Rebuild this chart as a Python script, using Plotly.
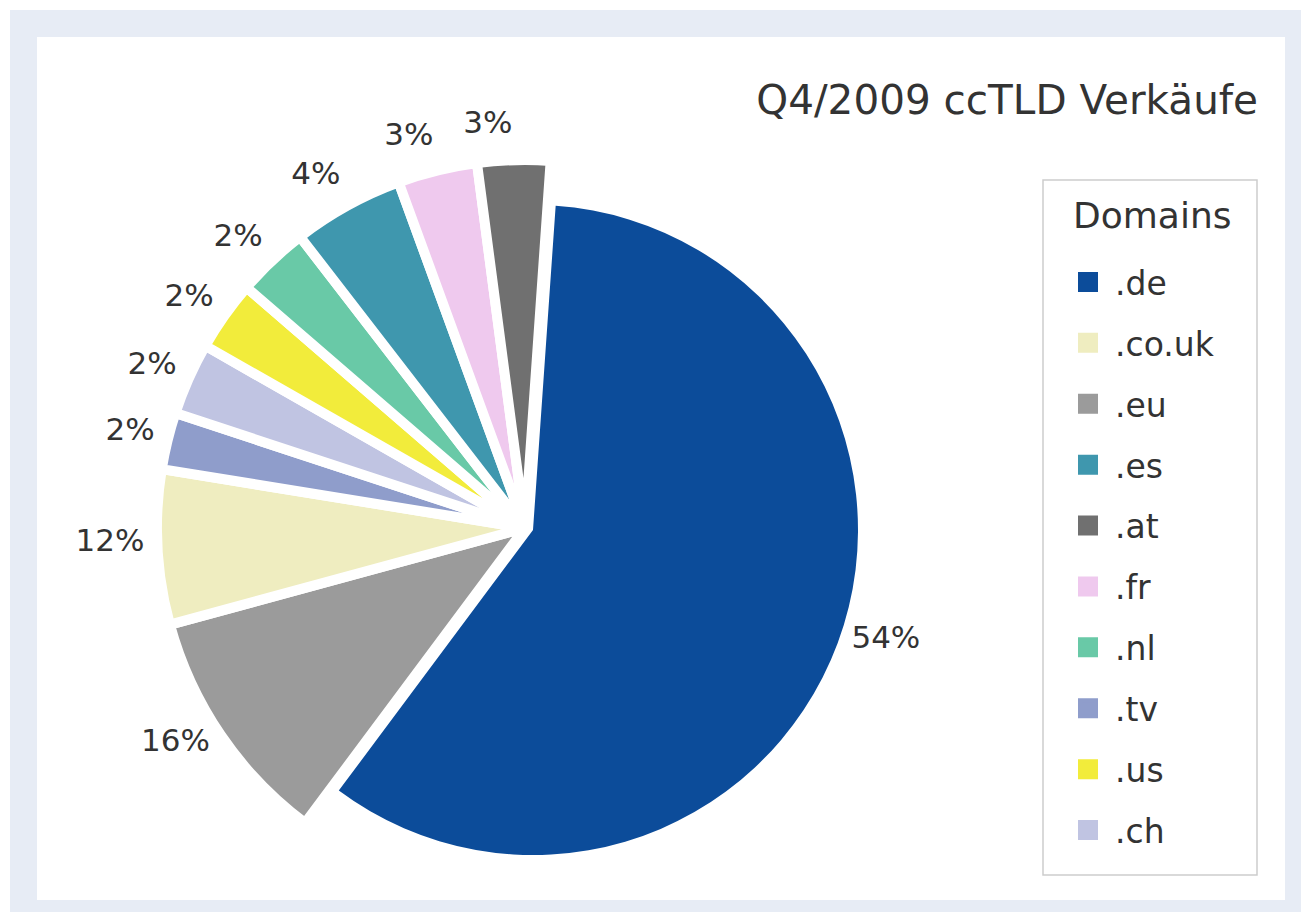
import plotly.graph_objects as go

# ---- data ----
# slice order as drawn (clockwise from 12 o'clock)
domains = [".de", ".eu", ".co.uk", ".tv", ".ch", ".us", ".nl", ".es", ".fr", ".at"]
# share of the circle each slice occupies in the drawing (%)
drawn_share = [59.2, 10.6, 6.8, 2.5, 3.2, 3.1, 3.2, 4.9, 3.5, 3.2]
# percentage labels printed next to the slices
label_pct = ["54%", "16%", "12%", "2%", "2%", "2%", "2%", "4%", "3%", "3%"]
# legend order as printed
legend_order = [".de", ".co.uk", ".eu", ".es", ".at", ".fr", ".nl", ".tv", ".us", ".ch"]

title_text = "Q4/2009 ccTLD Verkäufe"
legend_title = "Domains"

# ---- styles ----
colors = {
    ".de": "#0c4c9a",
    ".co.uk": "#efedc0",
    ".eu": "#9b9b9b",
    ".es": "#3f97ae",
    ".at": "#707070",
    ".fr": "#efc9ee",
    ".nl": "#69c9a7",
    ".tv": "#8f9dcb",
    ".us": "#f2ec3b",
    ".ch": "#c0c4e2",
}
CLEAR = "rgba(0,0,0,0)"
W, H = 1311, 920
FONT = "DejaVu Sans"
TXT = "#333333"
BIG = ".de"
# the large slice is drawn a little smaller and slightly offset,
# the other slices share one centre and are separated by white strokes
DE_C, DE_R = (533, 530), 325
REST_C, REST_R, GAP = (525, 528), 363, 10
LABEL_C = (533, 520)


def px_x(v):
    return v / W


def px_y(v):
    return 1 - v / H


def dom(c, half):
    return dict(x=[px_x(c[0] - half), px_x(c[0] + half)],
                y=[px_y(c[1] + half), px_y(c[1] - half)])


common = dict(labels=domains, values=drawn_share, sort=False,
              direction="clockwise", rotation=4, showlegend=False)

fig = go.Figure()
# large slice
fig.add_trace(go.Pie(
    **common,
    textinfo="none",
    marker=dict(colors=[colors[d] if d == BIG else CLEAR for d in domains],
                line=dict(width=0)),
    hoverinfo="label+percent",
    domain=dom(DE_C, DE_R),
))
# remaining slices
fig.add_trace(go.Pie(
    **common,
    textinfo="none",
    marker=dict(colors=[CLEAR if d == BIG else colors[d] for d in domains],
                line=dict(color="white",
                          width=[0 if d == BIG else GAP for d in domains])),
    hoverinfo="label+percent",
    domain=dom(REST_C, REST_R + GAP / 2),
))

# percentage labels, placed outside the slices
# (neighbouring labels go to different traces so they are not shifted)
LR = 330
lab_pull = (380 - LR) / LR
lab_pulls = [0 if d == BIG else lab_pull for d in domains]
for parity in (0, 1):
    fig.add_trace(go.Pie(
        **common,
        pull=lab_pulls,
        text=[t if i % 2 == parity else "" for i, t in enumerate(label_pct)],
        textinfo="text",
        textposition="outside",
        textfont=dict(family=FONT, size=31, color=TXT),
        marker=dict(colors=[CLEAR] * len(domains), line=dict(width=0)),
        hoverinfo="skip",
        domain=dom(LABEL_C, LR * (1 + lab_pull)),
    ))

for d in legend_order:
    fig.add_trace(go.Scatter(
        x=[None], y=[None], mode="markers", name=d, legendgroup=d,
        marker=dict(symbol="square", size=16, color=colors[d],
                    line=dict(color=colors[d], width=4)),
        showlegend=True, hoverinfo="skip",
    ))

shapes = [
    dict(type="rect", xref="paper", yref="paper", layer="below",
         x0=px_x(10), x1=px_x(1301), y0=px_y(912), y1=px_y(10),
         fillcolor="#e7ecf5", line=dict(width=0)),
    dict(type="rect", xref="paper", yref="paper", layer="below",
         x0=px_x(37), x1=px_x(1285), y0=px_y(900), y1=px_y(37),
         fillcolor="white", line=dict(width=0)),
    dict(type="rect", xref="paper", yref="paper", layer="below",
         x0=px_x(1043), x1=px_x(1257), y0=px_y(875), y1=px_y(180),
         fillcolor="white", line=dict(color="#cdcdcd", width=1.5)),
]

fig.update_layout(
    autosize=True,
    margin=dict(l=0, r=0, t=0, b=0, autoexpand=False),
    paper_bgcolor="white",
    plot_bgcolor="rgba(0,0,0,0)",
    xaxis=dict(visible=False),
    yaxis=dict(visible=False),
    shapes=shapes,
    title=dict(text=title_text, x=px_x(1258), xanchor="right",
               y=px_y(100), yanchor="middle",
               font=dict(family=FONT, size=40.5, color=TXT)),
    annotations=[dict(text=legend_title, xref="paper", yref="paper",
                      x=px_x(1071), y=px_y(215), xanchor="left", yanchor="middle",
                      showarrow=False, font=dict(family=FONT, size=36, color=TXT))],
    legend=dict(
        font=dict(family=FONT, size=33, color=TXT),
        x=px_x(1061), xanchor="left", y=px_y(254), yanchor="top",
        traceorder="grouped", tracegroupgap=15, itemwidth=44,
        bgcolor="rgba(0,0,0,0)", borderwidth=0,
    ),
)

fig.write_html(
    "out.html",
    config={"displayModeBar": False},
    default_width="100vw",
    default_height="100vh",
    post_script="document.body.style.margin='0';document.documentElement.style.overflow='hidden';",
)
